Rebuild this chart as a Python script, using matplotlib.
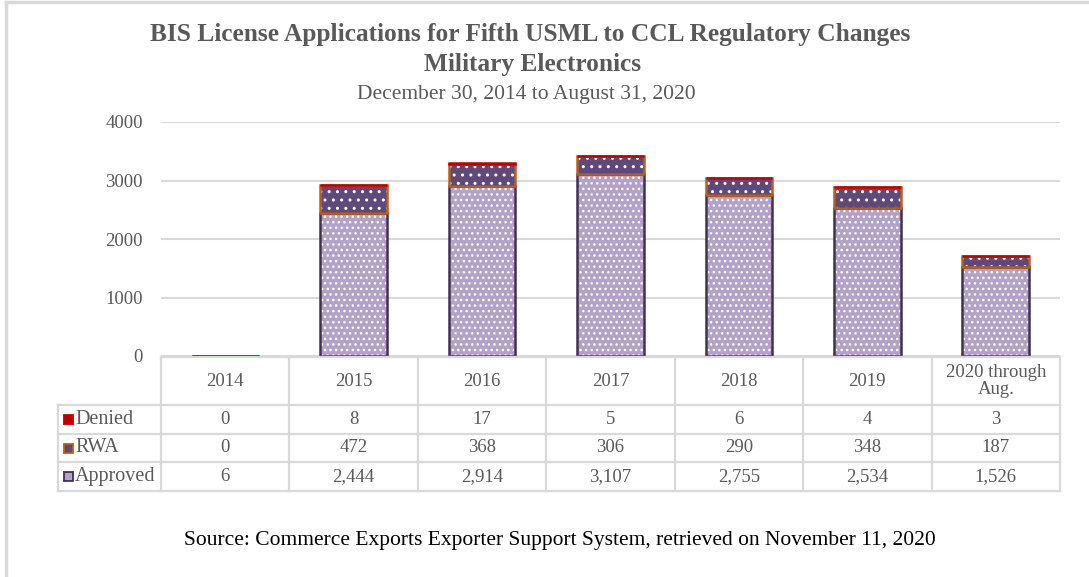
import numpy as np
import matplotlib
matplotlib.use("Agg")
import matplotlib.pyplot as plt
from matplotlib.patches import Rectangle

plt.rcParams["font.family"] = ["Liberation Serif", "DejaVu Serif"]

categories = ["2014", "2015", "2016", "2017", "2018", "2019", "2020 through\nAug."]
denied = [0, 8, 17, 5, 6, 4, 3]
rwa = [0, 472, 368, 306, 290, 348, 187]
approved = [6, 2444, 2914, 3107, 2755, 2534, 1526]
yticks = [0, 1000, 2000, 3000, 4000]

W, H = 1089, 577
GRID = "#d9d9d9"
TXT = "#595959"
APP_FACE, APP_EDGE = "#b3a2c7", "#3f3151"
RWA_FACE, RWA_EDGE = "#5f497a", "#b65f1e"
DEN_FACE = "#c00000"


def fx(px):
    return px / W


def fy(py):
    return 1 - py / H


fig = plt.figure(figsize=(W / 100, H / 100), dpi=100, facecolor="white")

# outer frame (top and left edges visible)
fig.add_artist(plt.Line2D([fx(6), 1], [fy(2), fy(2)], color=GRID, lw=2.5))
fig.add_artist(plt.Line2D([fx(6), fx(6)], [fy(2), 0], color=GRID, lw=2.5))

left, right, top, bot = 161, 1060, 122, 356
ax = fig.add_axes([fx(left), fy(bot), fx(right - left), fy(top) - fy(bot)])
x = np.arange(len(categories))
bw = 0.52

bottom_rwa = np.array(approved)
bottom_den = bottom_rwa + np.array(rwa)

# filled, dotted layers
ax.bar(x, approved, bw, color=APP_FACE, edgecolor="white", hatch="...", lw=0, zorder=2)
ax.bar(x, rwa, bw, bottom=bottom_rwa, color=RWA_FACE, edgecolor="white", hatch="..", lw=0, zorder=2)
ax.bar(x, denied, bw, bottom=bottom_den, color=DEN_FACE, lw=0, zorder=2)
# outlines
ax.bar(x, approved, bw, fill=False, edgecolor=APP_EDGE, lw=1.8, zorder=3)
ax.bar(x, rwa, bw, bottom=bottom_rwa, fill=False, edgecolor=RWA_EDGE, lw=1.8, zorder=4)
ax.bar(x, denied, bw, bottom=bottom_den, fill=False, edgecolor=DEN_FACE, lw=1.8, zorder=5)

ax.set_xlim(-0.5, len(categories) - 0.5)
ax.set_ylim(0, 4000)
ax.set_yticks(yticks)
ax.set_yticklabels([str(t) for t in yticks], fontsize=13.5, color=TXT)
ax.tick_params(axis="y", length=0, pad=13)
ax.set_xticks([])
ax.grid(axis="y", color=GRID, lw=1.5, zorder=0)
ax.set_axisbelow(True)
for s in ax.spines.values():
    s.set_visible(False)

# data table under the plot
tleft, ttop, tbot = 58, 357, 491
rows_px = [357, 405, 434, 462, 491]
colw = (right - left) / len(categories)
label_w = (left - tleft) / colw
tax = fig.add_axes([fx(tleft), fy(tbot), fx(right - tleft), fy(ttop) - fy(tbot)])
tax.set_xlim(-0.5 - label_w, len(categories) - 0.5)
tax.set_ylim(tbot, ttop)
tax.axis("off")

lkw = dict(color=GRID, lw=1.6, clip_on=False)
xl, xr = -0.5 - label_w, len(categories) - 0.5
tax.plot([-0.5, xr], [rows_px[0]] * 2, **lkw)
for r in rows_px[1:]:
    tax.plot([xl, xr], [r, r], **lkw)
tax.plot([xl, xl], [rows_px[1], rows_px[-1]], **lkw)
for i in range(len(categories) + 1):
    tax.plot([i - 0.5] * 2, [rows_px[0], rows_px[-1]], **lkw)

for i, c in enumerate(categories):
    tax.text(i, (rows_px[0] + rows_px[1]) / 2, c, ha="center", va="center",
             fontsize=13.5, color=TXT, linespacing=1.05)

series = [("Denied", denied, DEN_FACE, DEN_FACE),
          ("RWA", rwa, RWA_FACE, RWA_EDGE),
          ("Approved", approved, APP_FACE, APP_EDGE)]
for k, (name, vals, fc, ec) in enumerate(series):
    yc = (rows_px[k + 1] + rows_px[k + 2]) / 2
    for i, v in enumerate(vals):
        tax.text(i, yc, f"{v:,}", ha="center", va="center", fontsize=13.5, color=TXT)
    kx = xl + 6 / colw
    ks = 9 / colw
    tax.add_patch(Rectangle((kx, yc - 4.5), ks, 9, facecolor=fc, edgecolor=ec,
                            lw=1.3, clip_on=False))
    tax.text(kx + ks + 2 / colw, yc, name, ha="left", va="center", fontsize=14.5, color=TXT)

fig.text(fx(530), fy(34), "BIS License Applications for Fifth USML to CCL Regulatory Changes",
         ha="center", va="center", fontsize=18.3, fontweight="bold", color=TXT)
fig.text(fx(533), fy(64), "Military Electronics",
         ha="center", va="center", fontsize=18.3, fontweight="bold", color=TXT)
fig.text(fx(526), fy(94), "December 30, 2014 to August 31, 2020",
         ha="center", va="center", fontsize=15.5, color=TXT)
fig.text(fx(560), fy(540), "Source: Commerce Exports Exporter Support System, retrieved on November 11, 2020",
         ha="center", va="center", fontsize=15.5, color="black")

fig.savefig("out.png", dpi=100, facecolor="white")
